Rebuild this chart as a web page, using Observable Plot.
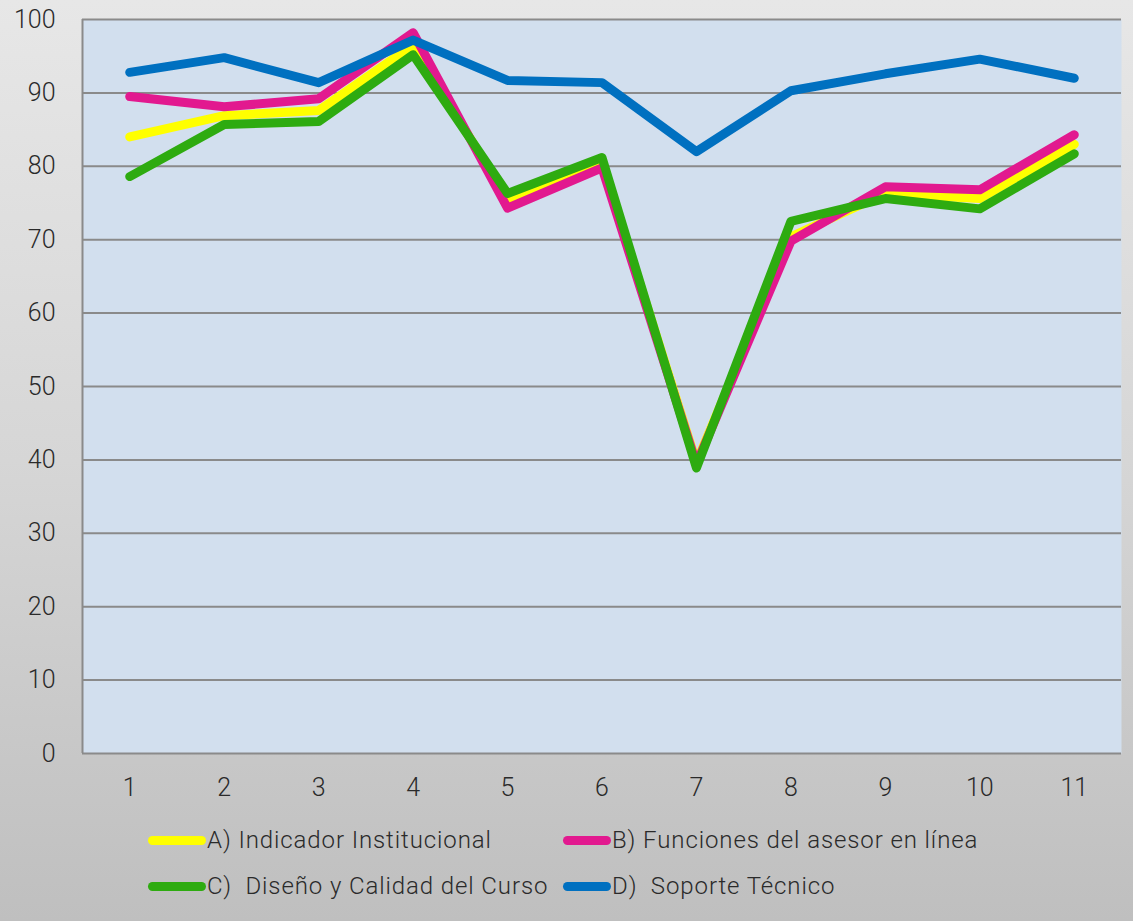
<!DOCTYPE html>
<html>
<head>
<meta charset="utf-8">
<script src="https://cdn.jsdelivr.net/npm/d3@7"></script>
<script src="https://cdn.jsdelivr.net/npm/@observablehq/plot@0.6"></script>
<style>
  html, body { margin: 0; padding: 0; }
  #wrap {
    position: relative; width: 1133px; height: 921px; overflow: hidden;
    background: linear-gradient(to bottom, #e7e7e7 0%, #d6d6d6 50%, #bfbfbf 100%);
    font-family: Roboto, "Noto Sans", sans-serif; font-weight: 300; color: #2a2a2a;
  }
  #legend { position: absolute; left: 0; top: 826px; width: 1133px; }
  .item { position: absolute; display: flex; align-items: center; font-size: 24px; letter-spacing: 0.9px; white-space: pre; }
  .sw { height: 9px; border-radius: 5px; margin-right: 1px; }
</style>
</head>
<body>
<div id="wrap"><div id="chart"></div><div id="legend"></div></div>
<script>
const categories = [1, 2, 3, 4, 5, 6, 7, 8, 9, 10, 11];
const seriesNames = [
  "A) Indicador Institucional",
  "B) Funciones del asesor en línea",
  "C)  Diseño y Calidad del Curso",
  "D)  Soporte Técnico"
];
const seriesColors = ["#ffff00", "#e2198f", "#2eab10", "#0070c0"];
const valuesA = [84.0, 86.9, 87.6, 96.5, 75.5, 80.4, 39.6, 70.4, 76.3, 75.6, 83.0];
const valuesB = [89.5, 88.1, 89.2, 98.2, 74.3, 79.8, 39.4, 69.8, 77.2, 76.8, 84.3];
const valuesC = [78.6, 85.7, 86.1, 95.2, 76.3, 81.2, 38.9, 72.5, 75.6, 74.2, 81.7];
const valuesD = [92.8, 94.8, 91.4, 97.2, 91.7, 91.4, 82.0, 90.3, 92.6, 94.6, 92.0];
const yTicks = [0, 10, 20, 30, 40, 50, 60, 70, 80, 90, 100];

const allValues = [valuesA, valuesB, valuesC, valuesD];
const data = [];
seriesNames.forEach((s, i) => categories.forEach((c, j) => data.push({series: s, x: c, y: allValues[i][j]})));

const chart = Plot.plot({
  width: 1133,
  height: 810,
  marginLeft: 82,
  marginRight: 12,
  marginTop: 19,
  marginBottom: 57,
  style: {background: "transparent", fontFamily: "Roboto, 'Noto Sans', sans-serif", fontWeight: 300, fontSize: "25px", color: "#2a2a2a"},
  x: {domain: [0.5, 11.5], axis: null},
  y: {domain: [0, 100], axis: null},
  color: {domain: seriesNames, range: seriesColors},
  marks: [
    Plot.frame({fill: "#d2dfee", stroke: null}),
    Plot.ruleY(yTicks, {stroke: "#8a8a8a", strokeWidth: 2}),
    Plot.ruleX([0.5], {stroke: "#8a8a8a", strokeWidth: 2}),
    Plot.axisY(yTicks, {tickSize: 0, tickPadding: 27, fontSize: 25, fill: "#2a2a2a", fontWeight: 300, label: null}),
    Plot.axisX(categories, {tickSize: 0, tickPadding: 25, fontSize: 25, fill: "#2a2a2a", fontWeight: 300, label: null}),
    Plot.line(data, {x: "x", y: "y", z: "series", stroke: "series", strokeWidth: 9, strokeLinecap: "round", strokeLinejoin: "round"})
  ]
});
document.getElementById("chart").appendChild(chart);

const legendPos = [[148, 0, 58], [563, 0, 48], [148, 46, 58], [563, 46, 48]];
const legend = document.getElementById("legend");
seriesNames.forEach((s, i) => {
  const d = document.createElement("div");
  d.className = "item";
  d.style.left = legendPos[i][0] + "px";
  d.style.top = legendPos[i][1] + "px";
  d.innerHTML = `<span class="sw" style="width:${legendPos[i][2]}px;background:${seriesColors[i]}"></span><span>${s}</span>`;
  legend.appendChild(d);
});
</script>
</body>
</html>
